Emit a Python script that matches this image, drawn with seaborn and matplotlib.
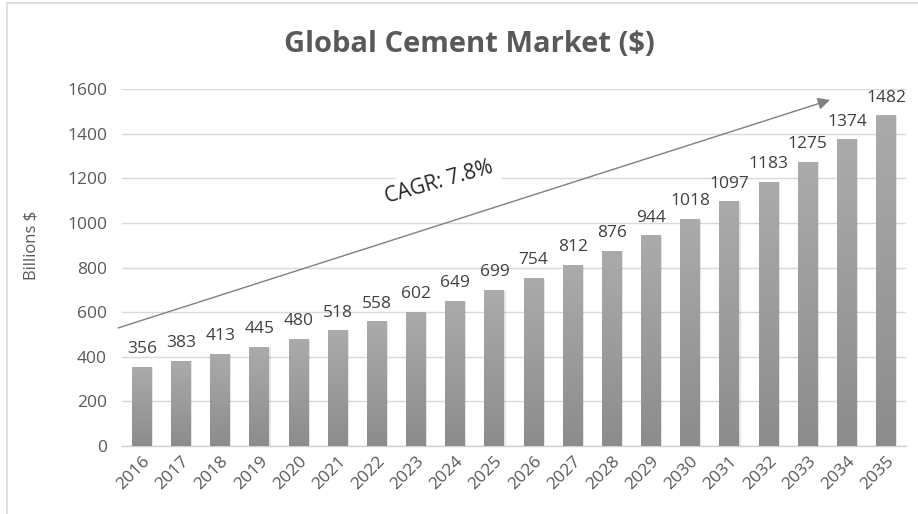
import matplotlib
matplotlib.use("Agg")
import matplotlib.pyplot as plt
import seaborn as sns
import numpy as np
import pandas as pd
from matplotlib.colors import LinearSegmentedColormap
from matplotlib.patches import Rectangle

years = [str(y) for y in range(2016, 2036)]
values = [356, 383, 413, 445, 480, 518, 558, 602, 649, 699,
          754, 812, 876, 944, 1018, 1097, 1183, 1275, 1374, 1482]
y_ticks = [0, 200, 400, 600, 800, 1000, 1200, 1400, 1600]
title = "Global Cement Market ($)"
y_label = "Billions $"
cagr_text = "CAGR: 7.8%"

sns.set_theme(style="white")
plt.rcParams['font.family'] = ['Open Sans', 'DejaVu Sans']

df = pd.DataFrame({"year": years, "value": values})

fig = plt.figure(figsize=(9.18, 5.14), dpi=100)
ax = fig.add_axes([122.4 / 918, 68 / 514, 783.2 / 918, 357 / 514])

sns.barplot(data=df, x="year", y="value", color="#9c9c9c", width=0.51,
            ax=ax, zorder=3, saturation=1)

ax.set_ylim(0, 1600)
ax.set_xlim(-0.5, len(years) - 0.5)
ax.set_yticks(y_ticks)
ax.grid(axis="y", color="#d9d9d9", linewidth=1.0, zorder=0)
ax.set_axisbelow(True)
for s in ["top", "right", "left"]:
    ax.spines[s].set_visible(False)
ax.spines["bottom"].set_color("#d0d0d0")
ax.spines["bottom"].set_linewidth(1.0)
ax.tick_params(axis="both", length=0, colors="#595959", labelsize=12.5)
ax.tick_params(axis="y", pad=11)
ax.tick_params(axis="x", pad=5)
for lab in ax.get_xticklabels():
    lab.set_rotation(45)
    lab.set_ha("right")
    lab.set_rotation_mode("anchor")
ax.set_xlabel("")
ax.set_ylabel(y_label, color="#595959", fontsize=12)
ax.yaxis.set_label_coords(-0.106, 0.563)

# gradient fill for bars
cmap = LinearSegmentedColormap.from_list("g", ["#8c8c8c", "#ababab"])
grad = np.linspace(0, 1, 256).reshape(-1, 1)
for p in ax.patches:
    x0 = p.get_x(); w = p.get_width(); h = p.get_height()
    sh = Rectangle((x0 + 0.03, 0), w, h - 4, facecolor="#000000", alpha=0.10,
                   edgecolor="none", zorder=2)
    ax.add_patch(sh)
    im = ax.imshow(grad, extent=[x0, x0 + w, 0, h], origin="lower", cmap=cmap,
                   aspect="auto", zorder=4)
    im.set_clip_path(p)
    p.set_edgecolor("none")
ax.set_xlim(-0.5, len(years) - 0.5)
ax.set_ylim(0, 1600)

ax.bar_label(ax.containers[0], labels=[str(v) for v in values], padding=7,
             fontsize=12.5, color="#404040", zorder=6)

# CAGR arrow and text
ax.annotate("", xy=(17.57, 1551), xytext=(-0.61, 529),
            arrowprops=dict(arrowstyle="-|>", color="#808080", lw=1.0,
                            mutation_scale=18, shrinkA=0, shrinkB=0),
            annotation_clip=False, zorder=5)
ax.text(7.58, 1180, cagr_text, rotation=16, ha="center", va="center",
        fontsize=15, color="#262626", zorder=5,
        bbox=dict(facecolor="white", edgecolor="none", pad=4))

fig.text(469 / 918, 1 - 45 / 514, title, ha="center", va="center",
         fontsize=21, fontweight="bold", color="#595959")

# chart border (partially cropped)
fig.patches.append(Rectangle((7 / 918, -0.1), 1.0, 1 - 3 / 514 + 0.1,
                             transform=fig.transFigure, fill=False,
                             edgecolor="#d9d9d9", linewidth=1.2))

fig.savefig("out.png", dpi=100)
